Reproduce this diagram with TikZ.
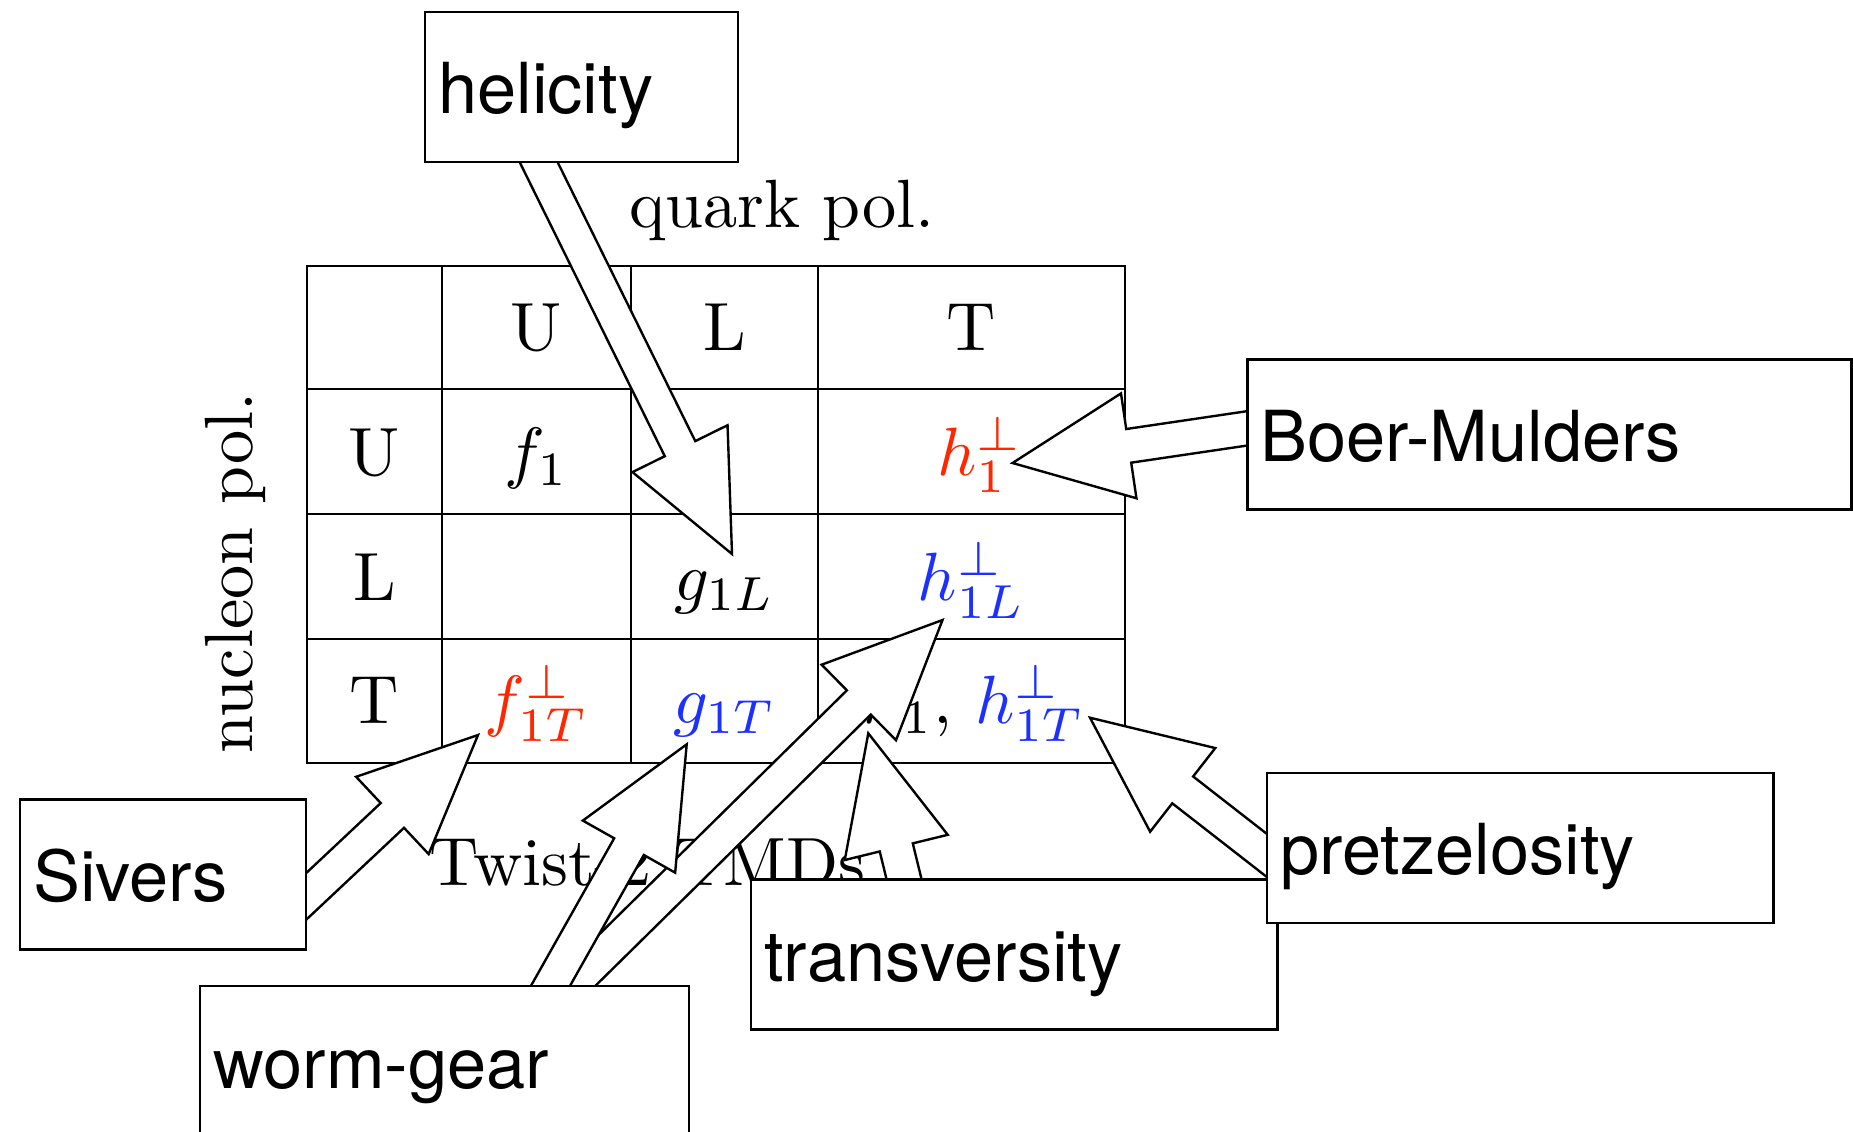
\documentclass[tikz,border=0pt]{standalone}
\usepackage{fontspec}
\newfontfamily\tagfont{TeX Gyre Heros}
\usetikzlibrary{calc}

\definecolor{tmdred}{RGB}{255,38,0}
\definecolor{tmdblue}{RGB}{28,48,255}

\tikzset{
  rule/.style={line width=0.35pt},
  entry/.style={anchor=base, inner sep=0pt},
  tag/.style={draw, fill=white, line width=0.35pt,
    font=\tagfont\fontsize{10.3}{12.4}\selectfont,
    minimum height=21.96pt, inner xsep=1.95pt, inner ysep=0pt,
    text height=9.9pt, text depth=2pt, align=left},
  fat arrow/.style={draw, fill=white, line width=0.35pt, line join=miter},
}

% outlined block arrow from a root point (hidden inside a label box) to a tip
\newcommand\fatarrow[2]{%
  \path ($(#2)!17.2pt!(#1)$) coordinate (fa-base);
  \draw[fat arrow]
    ($(#1)!2.49pt!90:(#2)$) -- ($(fa-base)!2.49pt!90:(#2)$)
    -- ($(fa-base)!7.76pt!90:(#2)$) -- (#2)
    -- ($(fa-base)!7.76pt!-90:(#2)$) -- ($(fa-base)!2.49pt!-90:(#2)$)
    -- ($(#1)!2.49pt!-90:(#2)$) -- cycle;
}

\begin{document}
\begin{tikzpicture}[x=0.14641pt, y=-0.14641pt]
\useasboundingbox (0,0) rectangle (1853,1131);

% table grid
\draw[rule] (307,266) rectangle (1125,763);
\foreach \x in {442,631,818} \draw[rule] (\x,266) -- (\x,763);
\foreach \y in {389,514,639} \draw[rule] (307,\y) -- (1125,\y);

% axis titles
\node[entry] (qpol) at (782,227) {quark pol.};
\node[entry, rotate=90] (npol) at (252,573) {nucleon pol.};
\node[entry, anchor=base west] (twist) at (428,885) {Twist-2 TMDs};

% column and row headers
\node[entry] (hU) at (536.5,350) {U};
\node[entry] (hL) at (724.5,350) {L};
\node[entry] (hT) at (971.5,350) {T};
\node[entry] (rU) at (374.5,475.5) {U};
\node[entry] (rL) at (374.5,600) {L};
\node[entry] (rT) at (374.5,723) {T};

% distribution functions
\node[entry] (f1) at (536.5,475.5) {$f_1$};
\node[entry, text=tmdred] (h1perp) at (980,475.5) {$h_1^\perp$};
\node[entry] (g1L) at (724.5,600) {$g_{1L}$};
\node[entry, text=tmdblue] (h1Lperp) at (971.5,600) {$h_{1L}^\perp$};
\node[entry, text=tmdred] (f1Tperp) at (536.5,723) {$f_{1T}^\perp$};
\node[entry, text=tmdblue] (g1T) at (724.5,723) {$g_{1T}$};
\node[entry] (h1T) at (974,723) {$h_1$, \textcolor{tmdblue}{$h_{1T}^\perp$}};

% arrow roots (inside the label boxes) and tips
\coordinate (hel-root) at (531.9,148.5);   \coordinate (hel-tip) at (732,554);
\coordinate (bm-root)  at (1262.3,426.1);  \coordinate (bm-tip)  at (1012.5,463);
\coordinate (siv-root) at (295.1,906.8);   \coordinate (siv-tip) at (478,735);
\coordinate (wgL-root) at (560.3,996.5);   \coordinate (wgL-tip) at (942.5,620);
\coordinate (wgT-root) at (543.0,999.1);   \coordinate (wgT-tip) at (686.7,744.3);
\coordinate (tr-root)  at (907.4,892.9);   \coordinate (tr-tip)  at (868.3,733.3);
\coordinate (pz-root)  at (1278.5,864.5);  \coordinate (pz-tip)  at (1090,717.7);

\fatarrow{hel-root}{hel-tip}
\fatarrow{bm-root}{bm-tip}
\fatarrow{siv-root}{siv-tip}
\fatarrow{wgL-root}{wgL-tip}
\fatarrow{wgT-root}{wgT-tip}
\fatarrow{tr-root}{tr-tip}
\fatarrow{pz-root}{pz-tip}

% label boxes
\node[tag, minimum width=45.83pt, text width=41.93pt] (hel) at (581.5,87) {helicity};
\node[tag, minimum width=88.43pt, text width=84.53pt] (bm) at (1549.5,434.5) {Boer-Mulders};
\node[tag, minimum width=41.87pt, text width=37.97pt] (siv) at (163,874.5) {Sivers};
\node[tag, minimum width=71.59pt, text width=67.69pt] (wg) at (444.5,1061) {worm-gear};
\node[tag, minimum width=77.08pt, text width=73.18pt] (tr) at (1014.25,954.5) {transversity};
\node[tag, minimum width=74.16pt, text width=70.26pt] (pz) at (1520.25,848) {pretzelosity};
\end{tikzpicture}
\end{document}
